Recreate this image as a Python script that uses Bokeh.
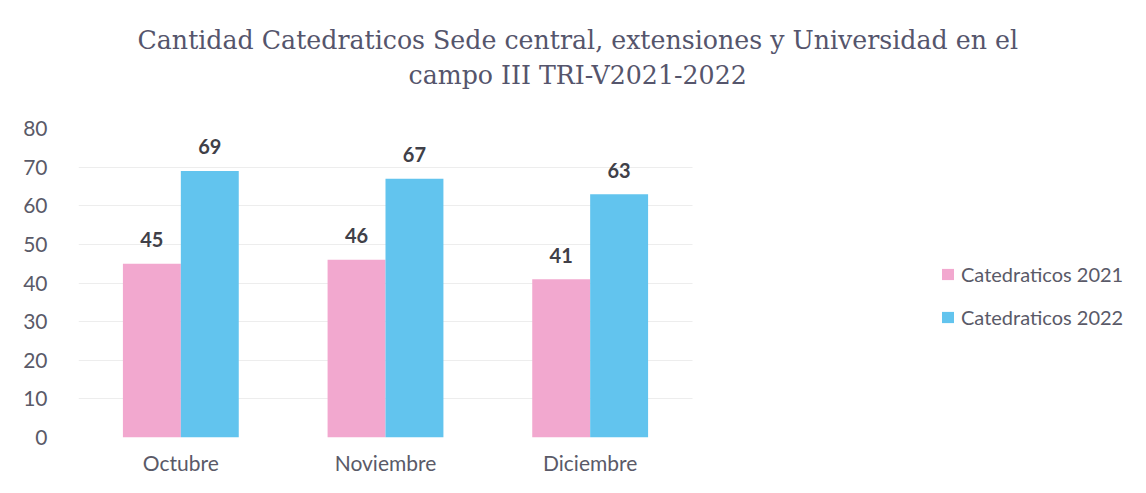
from bokeh.plotting import figure
from bokeh.models import ColumnDataSource, LabelSet, Legend, LegendItem, Range1d, Title, FixedTicker
from bokeh.transform import dodge
from bokeh.core.properties import value
from bokeh.embed import file_html
from bokeh.resources import INLINE

months = ["Octubre", "Noviembre", "Diciembre"]
cat_2021 = [45, 46, 41]
cat_2022 = [69, 67, 63]
series_names = ["Catedraticos 2021", "Catedraticos 2022"]
title_lines = ["Cantidad Catedraticos Sede central, extensiones y Universidad en el",
               "campo III TRI-V2021-2022"]
y_ticks = [0, 10, 20, 30, 40, 50, 60, 70, 80]

PINK = "#F2A8CF"
BLUE = "#62C4EE"
TEXT = "#5a5a68"
LBL = "#404048"
FONT = "Lato"
TFONT = "DejaVu Serif"

x_pos = [i + 0.5 for i in range(len(months))]          # category centres
x_end = len(months) * 1052 / 614                          # room on the right for the legend

src = ColumnDataSource(dict(x=x_pos, a=cat_2021, b=cat_2022,
                            la=[str(v) for v in cat_2021], lb=[str(v) for v in cat_2022]))

p = figure(x_range=Range1d(0, x_end), y_range=Range1d(0, 80),
           width=1130, height=477, output_backend="svg", toolbar_location=None,
           min_border_left=78, min_border_right=0, min_border_top=128, min_border_bottom=40)
p.outline_line_color = None
p.background_fill_color = "white"
p.border_fill_color = "white"

r1 = p.vbar(x=dodge("x", -0.1415), top="a", width=0.283, source=src,
            fill_color=PINK, line_color=None)
r2 = p.vbar(x=dodge("x", 0.1415), top="b", width=0.283, source=src,
            fill_color=BLUE, line_color=None)

for col, lab, dx in (("a", "la", -0.1415), ("b", "lb", 0.1415)):
    p.add_layout(LabelSet(x=dodge("x", dx), y=col, text=lab, source=src,
                          text_align="center", text_baseline="middle", y_offset=24,
                          text_font=value(FONT), text_font_size=value("20px"),
                          text_font_style=value("bold"), text_color=value(LBL)))

p.xaxis.ticker = FixedTicker(ticks=x_pos)
p.xaxis.major_label_overrides = {x: m for x, m in zip(x_pos, months)}
p.yaxis.ticker = y_ticks
p.xgrid.grid_line_color = None
p.ygrid.grid_line_color = "#ededed"
try:
    p.ygrid.cross_bounds = (0, len(months))
except Exception:
    p.ygrid.grid_line_color = None

for ax in (p.xaxis[0], p.yaxis[0]):
    ax.axis_line_color = None
    ax.major_tick_line_color = None
    ax.minor_tick_line_color = None
    ax.major_tick_in = 0
    ax.major_tick_out = 0
    ax.minor_tick_in = 0
    ax.minor_tick_out = 0
    ax.major_label_text_font = FONT
    ax.major_label_text_font_size = "21px"
    ax.major_label_text_color = TEXT
p.yaxis.major_label_standoff = 31
p.xaxis.major_label_standoff = 12

# title stack (closest to the frame first): spacer, second line, first line
p.add_layout(Title(text=" ", text_font_size="1px", standoff=35), "above")
p.add_layout(Title(text=title_lines[1], align="left", offset=330, standoff=2,
                   text_font=TFONT, text_font_size="25.25px", text_font_style="normal",
                   text_color="#55556c"), "above")
p.add_layout(Title(text=title_lines[0], align="left", offset=59, standoff=6,
                   text_font=TFONT, text_font_size="25.25px", text_font_style="normal",
                   text_color="#55556c"), "above")

legend = Legend(items=[LegendItem(label=series_names[0], renderers=[r1]),
                       LegendItem(label=series_names[1], renderers=[r2])],
                location=(862, 108), orientation="vertical",
                padding=0, margin=0, spacing=19, label_standoff=6,
                glyph_width=15, glyph_height=14, label_height=24,
                label_text_font=FONT, label_text_font_size="20px", label_text_color=TEXT,
                border_line_color=None, background_fill_alpha=0)
p.add_layout(legend)

open("out.html", "w").write(file_html(p, INLINE))
